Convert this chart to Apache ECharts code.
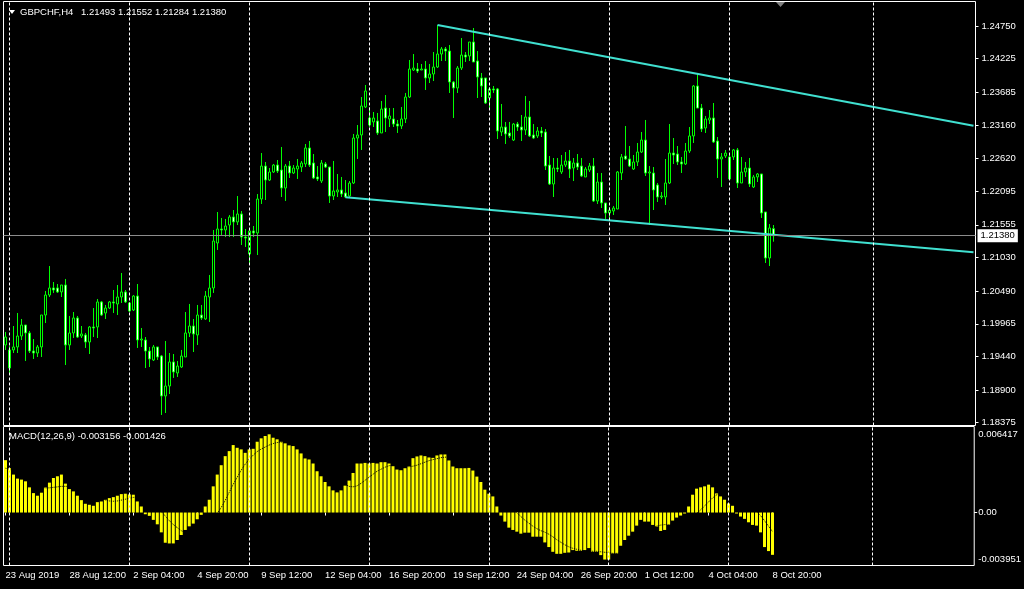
<!DOCTYPE html>
<html><head><meta charset="utf-8">
<script src="https://cdn.jsdelivr.net/npm/echarts@6/dist/echarts.min.js"></script>
<style>html,body{margin:0;padding:0;background:#000;}#c{width:1024px;height:589px;}</style>
</head><body><div id="c"></div>
<script>
// ---------- texts ----------
const symbolTitle = 'GBPCHF,H4';
const lastQuote = ['1.21493', '1.21552', '1.21284', '1.21380'];
const macdTitle = 'MACD(12,26,9) -0.003156 -0.001426';

// ---------- axes ----------
const TOTAL_SLOTS = 243;               // 193 bars + chart shift area
const xTickBars = [0, 16, 32, 48, 64, 80, 96, 112, 128, 144, 160, 176, 192];
const xTickLabels = ['23 Aug 2019', '28 Aug 12:00', '2 Sep 04:00', '4 Sep 20:00', '9 Sep 12:00',
  '12 Sep 04:00', '16 Sep 20:00', '19 Sep 12:00', '24 Sep 04:00', '26 Sep 20:00',
  '1 Oct 12:00', '4 Oct 04:00', '8 Oct 20:00'];
const gridBars = [1, 31, 61, 91, 121, 151, 181, 217];
const priceTicks = [1.24750, 1.24225, 1.23685, 1.23160, 1.22620, 1.22095, 1.21555,
  1.21030, 1.20490, 1.19965, 1.19440, 1.18900, 1.18375];
const priceMin = 1.18330, priceMax = 1.25144;
const macdTicks = [0.006417, 0, -0.003951];
const macdTickLabels = ['0.006417', '0.00', '-0.003951'];
const lastPrice = 1.21380;

// ---------- trend lines [barIndex, price] ----------
const upperTrend = [[108, 1.24766], [242, 1.23146]];
const lowerTrend = [[85, 1.21997], [242, 1.21115]];

// ---------- candles: [open, close, low, high] ----------
const ohlc = [
[1.19624,1.19752,1.19544,1.19833],[1.19544,1.19254,1.19142,1.19608],[1.19544,1.19592,1.19495,1.19929],[1.19592,1.19768,1.19495,1.20138],[1.19768,1.19945,1.19704,1.20042],
[1.19945,1.19817,1.19367,1.19945],[1.19817,1.19527,1.19495,1.19849],[1.19527,1.19495,1.19399,1.19720],[1.19495,1.19592,1.19431,1.19624],[1.19592,1.20106,1.19431,1.20106],
[1.20106,1.20427,1.19977,1.20492],[1.20427,1.20540,1.20395,1.20893],[1.20540,1.20508,1.20460,1.20636],[1.20540,1.20476,1.20460,1.20604],[1.20476,1.20588,1.20395,1.20588],
[1.20588,1.19624,1.19302,1.20685],[1.19624,1.19817,1.19544,1.20090],[1.19817,1.20058,1.19736,1.20154],[1.20058,1.19752,1.19736,1.20090],[1.19768,1.19801,1.19736,1.19929],
[1.19785,1.19672,1.19576,1.19817],[1.19672,1.19913,1.19479,1.19929],[1.19913,1.19897,1.19752,1.20218],[1.19913,1.20315,1.19736,1.20363],[1.20315,1.20106,1.20090,1.20331],
[1.20138,1.20218,1.20042,1.20267],[1.20218,1.20315,1.20202,1.20331],[1.20315,1.20299,1.20138,1.20508],[1.20283,1.20395,1.20106,1.20588],[1.20395,1.20476,1.20299,1.20781],
[1.20476,1.20315,1.20299,1.20508],[1.20299,1.20170,1.20154,1.20315],[1.20186,1.20411,1.20170,1.20427],[1.20411,1.19704,1.19576,1.20604],[1.19704,1.19720,1.19592,1.19897],
[1.19704,1.19527,1.19254,1.19752],[1.19527,1.19399,1.19270,1.19592],[1.19383,1.19592,1.19367,1.19624],[1.19592,1.19431,1.19383,1.19592],[1.19447,1.18804,1.18499,1.19463],
[1.18804,1.18965,1.18531,1.19688],[1.18965,1.19351,1.18836,1.19495],[1.19351,1.19190,1.19094,1.19479],[1.19174,1.19286,1.19110,1.19367],[1.19270,1.19447,1.19254,1.19544],
[1.19431,1.19817,1.19431,1.20154],[1.19817,1.19929,1.19752,1.20283],[1.19929,1.19801,1.19511,1.20042],[1.19785,1.20106,1.19624,1.20267],[1.20106,1.20058,1.20026,1.20267],
[1.20042,1.20411,1.20026,1.20492],[1.20395,1.20540,1.19994,1.20749],[1.20540,1.21295,1.20460,1.21472],[1.21263,1.21488,1.21151,1.21761],[1.21488,1.21472,1.21392,1.21665],
[1.21472,1.21536,1.21359,1.21649],[1.21552,1.21681,1.21359,1.21713],[1.21681,1.21601,1.21359,1.21793],[1.21601,1.21729,1.21552,1.22018],[1.21729,1.21359,1.21231,1.21777],
[1.21359,1.21343,1.21199,1.21488],[1.21086,1.21456,1.20942,1.21504],[1.21456,1.21424,1.21359,1.21536],[1.21424,1.21970,1.21070,1.22050],[1.21970,1.22500,1.21890,1.22709],
[1.22500,1.22275,1.21954,1.22565],[1.22275,1.22404,1.22259,1.22468],[1.22404,1.22516,1.22388,1.22533],[1.22516,1.22420,1.22388,1.22597],[1.22436,1.22147,1.22002,1.22806],
[1.22147,1.22500,1.21938,1.22533],[1.22500,1.22388,1.22308,1.22581],[1.22388,1.22468,1.22372,1.22516],[1.22452,1.22500,1.22292,1.22613],[1.22484,1.22549,1.22404,1.22581],
[1.22533,1.22790,1.22484,1.22854],[1.22790,1.22516,1.22484,1.22902],[1.22549,1.22308,1.22292,1.22693],[1.22324,1.22292,1.22259,1.22500],[1.22259,1.22549,1.22227,1.22597],
[1.22533,1.22484,1.22468,1.22565],[1.22484,1.22018,1.21906,1.22484],[1.22018,1.22099,1.21954,1.22581],[1.22083,1.22115,1.22002,1.22372],[1.22115,1.22050,1.22002,1.22324],
[1.22067,1.22002,1.21986,1.22275],[1.22018,1.22227,1.22002,1.22259],[1.22227,1.22950,1.22211,1.23015],[1.22950,1.22999,1.22613,1.23159],[1.22999,1.23465,1.22758,1.23609],
[1.23449,1.23706,1.23432,1.23802],[1.23272,1.23159,1.23127,1.23449],[1.23208,1.23272,1.23127,1.23368],[1.23224,1.23031,1.22999,1.23352],[1.23031,1.23416,1.23031,1.23545],
[1.23432,1.23272,1.23047,1.23641],[1.23256,1.23304,1.23127,1.23432],[1.23256,1.23175,1.23127,1.23432],[1.23175,1.23143,1.23031,1.23240],[1.23143,1.23256,1.23095,1.23449],
[1.23256,1.23609,1.23191,1.23674],[1.23609,1.24059,1.23593,1.24204],[1.24043,1.24075,1.24027,1.24300],[1.24059,1.24027,1.23995,1.24156],[1.24043,1.24059,1.24043,1.24140],
[1.24059,1.23915,1.23722,1.24188],[1.23915,1.23979,1.23834,1.24140],[1.23979,1.24091,1.23866,1.24332],[1.24091,1.24300,1.24075,1.24766],[1.24300,1.24381,1.24188,1.24413],
[1.24381,1.24348,1.24188,1.24413],[1.24348,1.23850,1.23674,1.24445],[1.23850,1.23754,1.23272,1.23866],[1.23754,1.24075,1.23674,1.24107],[1.24075,1.24284,1.24043,1.24557],
[1.24284,1.24252,1.24172,1.24332],[1.24268,1.24493,1.24188,1.24493],[1.24493,1.24172,1.24172,1.24718],[1.24188,1.23931,1.23593,1.24348],[1.23915,1.23786,1.23609,1.23995],
[1.23915,1.23513,1.23497,1.23915],[1.23593,1.23738,1.23400,1.23770],[1.23738,1.23722,1.23674,1.23786],[1.23738,1.23063,1.22934,1.23754],[1.23047,1.23127,1.22983,1.23497],
[1.23127,1.23015,1.22854,1.23208],[1.23031,1.22983,1.22950,1.23208],[1.22918,1.23175,1.22902,1.23191],[1.23175,1.23127,1.23063,1.23208],[1.23127,1.23079,1.22902,1.23320],
[1.23079,1.23288,1.22999,1.23625],[1.23288,1.22983,1.22966,1.23545],[1.22999,1.22950,1.22934,1.23175],[1.22983,1.23063,1.22950,1.23127],[1.23063,1.23031,1.22966,1.23127],
[1.23047,1.22500,1.22436,1.23095],[1.22516,1.22211,1.22195,1.22661],[1.22211,1.22468,1.22002,1.22629],[1.22468,1.22452,1.22404,1.22629],[1.22404,1.22516,1.22372,1.22677],
[1.22516,1.22581,1.22484,1.22725],[1.22581,1.22452,1.22308,1.22758],[1.22468,1.22549,1.22259,1.22629],[1.22549,1.22484,1.22436,1.22693],[1.22500,1.22340,1.22324,1.22629],
[1.22324,1.22452,1.22324,1.22484],[1.22436,1.22500,1.22404,1.22549],[1.22500,1.21938,1.21922,1.22629],[1.21938,1.22243,1.21890,1.22388],[1.22243,1.21906,1.21825,1.22388],
[1.21906,1.21745,1.21649,1.21906],[1.21745,1.21793,1.21649,1.21842],[1.21777,1.21825,1.21713,1.21858],[1.21809,1.22404,1.21809,1.22420],[1.22388,1.22645,1.22275,1.22693],
[1.22661,1.22613,1.22597,1.23143],[1.22613,1.22500,1.22484,1.22822],[1.22452,1.22565,1.22436,1.22677],[1.22565,1.22725,1.22500,1.22870],[1.22725,1.22918,1.22709,1.23047],
[1.22918,1.22388,1.22340,1.23240],[1.22388,1.22404,1.21552,1.22500],[1.22388,1.22115,1.21793,1.22484],[1.22195,1.22002,1.21922,1.22227],[1.22002,1.22018,1.21970,1.22083],
[1.22002,1.22227,1.21874,1.22613],[1.22227,1.22709,1.22211,1.23175],[1.22709,1.22677,1.22533,1.22950],[1.22693,1.22565,1.22516,1.22822],[1.22565,1.22533,1.22388,1.22645],
[1.22533,1.22741,1.22516,1.22870],[1.22741,1.22983,1.22709,1.23127],[1.22983,1.23786,1.22870,1.23802],[1.23786,1.23432,1.23432,1.23995],[1.23432,1.23095,1.23047,1.23497],
[1.23111,1.23256,1.23031,1.23304],[1.23240,1.23272,1.23175,1.23400],[1.23272,1.22886,1.22870,1.23513],[1.22902,1.22613,1.22308,1.22966],[1.22613,1.22645,1.22163,1.22709],
[1.22661,1.22709,1.22629,1.22758],[1.22645,1.22292,1.22275,1.22677],[1.22645,1.22758,1.22597,1.22774],[1.22758,1.22227,1.22147,1.22790],[1.22227,1.22404,1.22227,1.22645],
[1.22404,1.22468,1.22324,1.22565],[1.22468,1.22211,1.22163,1.22629],[1.22163,1.22324,1.22147,1.22356],[1.22324,1.22372,1.22243,1.22388],[1.22372,1.21745,1.21665,1.22372],
[1.21761,1.21022,1.20942,1.21761],[1.21022,1.21504,1.20893,1.21568],[1.21493,1.21380,1.21284,1.21552]
];

// ---------- MACD(12,26,9) ----------
const macdMain = [
0.003905,0.003304,0.002831,0.002531,0.002456,0.002328,0.001878,0.001449,0.001254,0.001479,
0.001878,0.00223,0.002576,0.002704,0.002831,0.002155,0.00175,0.001577,0.001254,0.000924,
0.000653,0.000578,0.000503,0.000774,0.000826,0.000954,0.001074,0.001149,0.001254,0.001374,
0.001404,0.001352,0.001329,0.000826,0.000451,-0.000128,-0.000248,-0.000548,-0.000879,-0.001479,
-0.002253,-0.002306,-0.002306,-0.00205,-0.001675,-0.001299,-0.001029,-0.000826,-0.000503,-0.000173,
0.000451,0.000954,0.001953,0.002831,0.00353,0.004206,0.004581,0.005032,0.004829,0.004709,
0.004453,0.004709,0.004754,0.00528,0.005535,0.005708,0.005835,0.00558,0.00546,0.00528,
0.005159,0.005009,0.004957,0.004709,0.004408,0.004033,0.003958,0.003657,0.003079,0.002704,
0.002276,0.001953,0.001652,0.001502,0.001652,0.002005,0.002381,0.002951,0.003657,0.003657,
0.003702,0.003657,0.003702,0.003657,0.003755,0.003755,0.003657,0.003455,0.003207,0.003154,
0.003304,0.003455,0.004055,0.004183,0.004258,0.004206,0.004108,0.004078,0.004258,0.004333,
0.004333,0.003883,0.003432,0.003304,0.003304,0.003304,0.003327,0.003132,0.002681,0.002276,
0.001705,0.001404,0.001202,0.000451,-0.000225,-0.000676,-0.001127,-0.001299,-0.001427,-0.001577,
-0.001502,-0.001502,-0.001802,-0.001802,-0.001802,-0.00223,-0.002576,-0.002929,-0.003079,-0.003079,
-0.003004,-0.002981,-0.002801,-0.002854,-0.002854,-0.002801,-0.002651,-0.002929,-0.002929,-0.003177,
-0.003507,-0.003507,-0.003057,-0.003057,-0.002478,-0.00205,-0.001727,-0.001427,-0.000976,-0.000548,
-0.000676,-0.000676,-0.000924,-0.001051,-0.001374,-0.001299,-0.000924,-0.000601,-0.000376,-0.000225,
-0.000075,0.000451,0.001329,0.00178,0.001878,0.001953,0.00208,0.001878,0.001427,0.001202,
0.000954,0.000676,0.000503,-0.000075,-0.0003,-0.000473,-0.000728,-0.000924,-0.000976,-0.001479,
-0.002576,-0.002876,-0.003156
];
const macdSignal = [
0.003304,0.003229,0.003079,0.002929,0.002779,0.002629,0.002403,0.002178,0.002028,0.001878,
0.00184,0.00184,0.001878,0.001915,0.001953,0.001953,0.001953,0.001953,0.001915,0.00184,
0.00169,0.00154,0.001389,0.001202,0.001051,0.000939,0.000864,0.000841,0.000864,0.000924,
0.000991,0.001066,0.001127,0.001127,0.001074,0.000939,0.000774,0.000578,0.000338,0.000075,
-0.000263,-0.000601,-0.000901,-0.001127,-0.001352,-0.001502,-0.001577,-0.001615,-0.001577,-0.001427,
-0.001202,-0.000901,-0.000526,-0.000075,0.000376,0.000901,0.001502,0.002103,0.002629,0.003154,
0.003605,0.00398,0.004281,0.004544,0.004731,0.004882,0.005032,0.005144,0.005219,0.005257,
0.005257,0.005219,0.005182,0.005107,0.004994,0.004844,0.004656,0.004468,0.004206,0.003905,
0.003605,0.003304,0.002966,0.002629,0.002328,0.002103,0.001953,0.001915,0.00199,0.002178,
0.002403,0.002629,0.002854,0.003079,0.003229,0.00338,0.003492,0.00353,0.00353,0.003492,
0.003455,0.003417,0.003455,0.00353,0.003642,0.003755,0.003868,0.003943,0.004018,0.004093,
0.004131,0.004131,0.004055,0.003943,0.00383,0.003717,0.003605,0.003455,0.003267,0.003042,
0.002779,0.002478,0.002178,0.00184,0.001464,0.001089,0.000713,0.000338,0,-0.0003,
-0.000563,-0.000789,-0.001014,-0.001202,-0.001352,-0.001464,-0.001615,-0.001802,-0.002028,-0.002215,
-0.002403,-0.002553,-0.002666,-0.002741,-0.002816,-0.002854,-0.002854,-0.002891,-0.002891,-0.002929,
-0.002966,-0.003004,-0.003042,-0.003042,-0.003004,-0.002891,-0.002704,-0.002478,-0.002215,-0.001953,
-0.001652,-0.001389,-0.001164,-0.001014,-0.000939,-0.000901,-0.000901,-0.000864,-0.000826,-0.000789,
-0.000713,-0.000563,-0.000338,-0.000075,0.000188,0.000488,0.000789,0.001089,0.001314,0.001464,
0.00154,0.00154,0.001464,0.001277,0.001051,0.000826,0.000563,0.0003,0.000075,-0.000225,
-0.000601,-0.001014,-0.001426
];

// ---------- chart ----------
const FONT = 'Liberation Sans';
const FS = 9.5;
const slots = Array.from({length: TOTAL_SLOTS}, (_, i) => String(i));
const gridLineData = gridBars.map(b => ({xAxis: String(b)}));
const dashed = {color: '#ffffff', width: 1, type: [3, 2]};
function macdLabelIndex(v) {
  let best = 0, d = Infinity;
  macdTicks.forEach((t, k) => { const e = Math.abs(t - v); if (e < d) { d = e; best = k; } });
  return best;
}

const chart = echarts.init(document.getElementById('c'), null, {renderer: 'canvas'});
chart.setOption({
  backgroundColor: '#000000',
  animation: false,
  textStyle: {fontFamily: FONT},
  grid: [
    {left: 3.5, top: 1.5, width: 972, height: 424, show: true, borderColor: '#ffffff', borderWidth: 1, backgroundColor: 'transparent'},
    {left: 3.5, top: 426.5, width: 972, height: 139, show: true, borderColor: '#ffffff', borderWidth: 1, backgroundColor: 'transparent'}
  ],
  xAxis: [
    {gridIndex: 0, type: 'category', data: slots, boundaryGap: true, show: false},
    {gridIndex: 1, type: 'category', data: slots, boundaryGap: true,
      axisLine: {show: false},
      axisTick: {show: true, alignWithLabel: true, length: 3, inside: false,
        interval: (i) => xTickBars.indexOf(i) >= 0, lineStyle: {color: '#ffffff'}},
      axisLabel: {show: true, interval: (i) => xTickBars.indexOf(i) >= 0,
        formatter: (v, i) => xTickLabels[xTickBars.indexOf(Number(v))] || '',
        align: 'left', margin: 5, color: '#ffffff', fontSize: FS, fontFamily: FONT},
      splitLine: {show: false}}
  ],
  yAxis: [
    {gridIndex: 0, type: 'value', position: 'right', min: priceMin, max: priceMax,
      axisLine: {show: false}, splitLine: {show: false},
      axisTick: {show: true, customValues: priceTicks, length: 3, lineStyle: {color: '#ffffff'}},
      axisLabel: {customValues: priceTicks, color: '#ffffff', fontSize: FS, fontFamily: FONT, margin: 6,
        formatter: (v) => v.toFixed(5)}},
    {gridIndex: 1, type: 'value', position: 'right', min: macdTicks[2], max: macdTicks[0],
      axisLine: {show: false}, splitLine: {show: false},
      axisTick: {show: true, customValues: [macdTicks[1]], length: 3, lineStyle: {color: '#ffffff'}},
      axisLabel: {customValues: macdTicks, margin: 4,
        formatter: (v) => { const k = macdLabelIndex(v); const tag = k === 0 ? 't' : (k === 2 ? 'b' : 'm'); return '{' + tag + '|' + macdTickLabels[k] + '}'; },
        rich: {
          t: {color: '#ffffff', fontSize: FS, fontFamily: FONT, padding: [15, 0, 0, 0]},
          m: {color: '#ffffff', fontSize: FS, fontFamily: FONT},
          b: {color: '#ffffff', fontSize: FS, fontFamily: FONT, padding: [0, 0, 12, 0]}
        }}}
  ],
  graphic: [
    {type: 'polygon', silent: true, shape: {points: [[9, 10], [15, 10], [12, 14]]}, style: {fill: '#ffffff'}},
    {type: 'text', silent: true, x: 20, y: 12.5, style: {text: symbolTitle, fill: '#ffffff', font: FS + 'px ' + FONT, verticalAlign: 'middle'}},
    {type: 'text', silent: true, x: 81, y: 12.5, style: {text: lastQuote.join(' '), fill: '#ffffff', font: FS + 'px ' + FONT, verticalAlign: 'middle'}},
    {type: 'text', silent: true, x: 9, y: 436.5, style: {text: macdTitle, fill: '#ffffff', font: FS + 'px ' + FONT, verticalAlign: 'middle'}},
    {type: 'polygon', silent: true, shape: {points: [[776, 2], [785, 2], [780.5, 7]]}, style: {fill: '#808080'}}
  ],
  series: [
    {type: 'candlestick', name: 'GBPCHF', xAxisIndex: 0, yAxisIndex: 0, data: ohlc, barWidth: 2,
      itemStyle: {color: '#000000', color0: '#ffffff', borderColor: '#00ff00', borderColor0: '#00ff00', borderWidth: 1},
      markLine: {silent: true, symbol: ['none', 'none'], animation: false, precision: 5,
        data: gridLineData.map(d => Object.assign({}, d, {lineStyle: dashed, label: {show: false}})).concat([
          {yAxis: lastPrice, lineStyle: {color: '#8c8c8c', width: 1, type: 'solid'},
            label: {show: true, position: 'end', distance: 2, formatter: lastQuote[3], color: '#000000',
              backgroundColor: '#ffffff', padding: [2, 3, 1, 3], fontSize: FS, fontFamily: FONT}}
        ])}},
    {type: 'line', name: 'upper', xAxisIndex: 0, yAxisIndex: 0, data: upperTrend, symbol: 'none', silent: true,
      lineStyle: {color: '#40e0d0', width: 2}, z: 3},
    {type: 'line', name: 'lower', xAxisIndex: 0, yAxisIndex: 0, data: lowerTrend, symbol: 'none', silent: true,
      lineStyle: {color: '#40e0d0', width: 2}, z: 3},
    {type: 'bar', name: 'MACD', xAxisIndex: 1, yAxisIndex: 1, data: macdMain, barWidth: 3,
      itemStyle: {color: '#ffff00'},
      markLine: {silent: true, symbol: ['none', 'none'], animation: false, precision: 6,
        data: gridLineData.map(d => Object.assign({}, d, {lineStyle: dashed, label: {show: false}}))}},
    {type: 'line', name: 'Signal', xAxisIndex: 1, yAxisIndex: 1, data: macdSignal, symbol: 'none', silent: true,
      lineStyle: {color: '#000000', width: 1, type: 'dotted'}, z: 4}
  ]
});
</script>
</body></html>
